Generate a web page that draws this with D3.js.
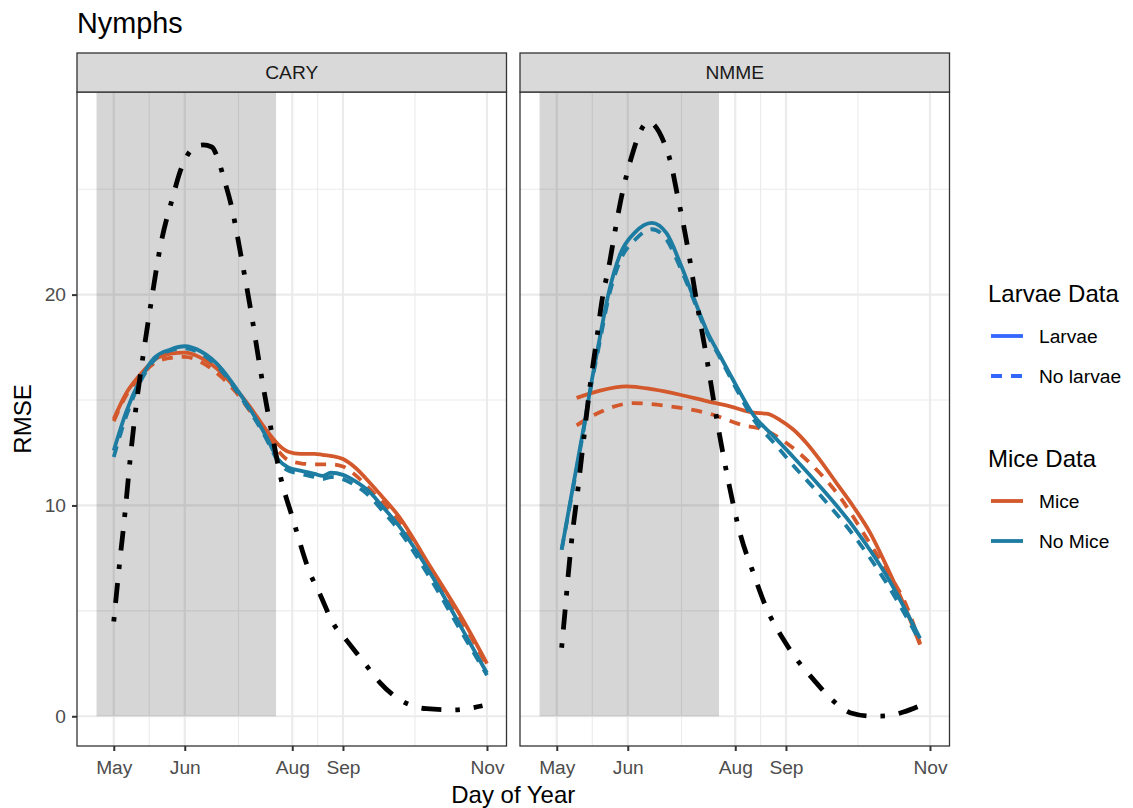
<!DOCTYPE html>
<html>
<head>
<meta charset="utf-8">
<script src="https://cdn.jsdelivr.net/npm/d3@7"></script>
<style>
  body { margin: 0; background: #ffffff; }
  svg { display: block; }
  text { font-family: "Liberation Sans", Arial, Helvetica, sans-serif; }
</style>
</head>
<body>
<svg id="chart" width="1133" height="808"></svg>
<script>
// ---- data -------------------------------------------------------------
const panelNames = ["CARY", "NMME"];
const monthTickDays = [121, 156, 209, 234, 305];
const monthTickLabels = ["May", "Jun", "Aug", "Sep", "Nov"];
const yTickValues = [0, 10, 20];
const yMinorValues = [5, 15, 25];
const shadedWindow = [112.5, 201];

// CARY: RMSE by day of year
const caryDays = [121, 127, 134, 141, 149, 156, 164, 174, 181, 188, 196, 202, 207, 213, 220, 224, 228, 234, 240, 247, 253, 261, 277, 293, 305];
const caryMiceLarvae     = [14.1, 15.3, 16.2, 16.9, 17.2, 17.25, 17.0, 16.3, 15.55, 14.7, 13.6, 12.9, 12.55, 12.45, 12.45, 12.4, 12.35, 12.2, 11.8, 11.1, 10.45, 9.55, 7.1, 4.6, 2.5];
const caryMiceNoLarvae   = [14.0, 15.2, 16.1, 16.75, 17.0, 17.05, 16.8, 16.1, 15.4, 14.5, 13.4, 12.6, 12.15, 12.0, 11.95, 11.95, 11.95, 11.85, 11.45, 10.8, 10.2, 9.35, 6.95, 4.45, 2.4];
const caryNoMiceLarvae   = [12.6, 14.4, 15.95, 17.0, 17.4, 17.55, 17.3, 16.5, 15.6, 14.6, 13.3, 12.2, 11.8, 11.65, 11.5, 11.4, 11.55, 11.45, 11.15, 10.65, 10.0, 9.1, 6.8, 4.1, 2.05];
const caryNoMiceNoLarvae = [12.3, 14.2, 15.85, 16.9, 17.35, 17.45, 17.2, 16.4, 15.5, 14.5, 13.2, 12.1, 11.65, 11.5, 11.35, 11.25, 11.35, 11.25, 10.95, 10.45, 9.8, 8.9, 6.55, 3.9, 1.95];
const caryBaselineDays = [121, 123.7, 126.6, 129.1, 132.4, 135.6, 139.7, 143.8, 150.3, 153.6, 161, 165, 169.3, 172.5, 175.3, 179, 184, 189, 193, 197, 199.6, 202.9, 209.5, 217.7, 222.6, 229.2, 235.8, 245.6, 252.2, 263.6, 275.2, 288.2, 302.8];
const caryBaseline     = [4.5, 7.1, 9.7, 12.2, 15.0, 17.2, 19.8, 22.2, 24.7, 25.8, 27.0, 27.1, 27.0, 26.4, 25.5, 24.2, 21.7, 19.0, 16.6, 14.4, 13.1, 11.5, 9.3, 6.8, 5.8, 4.4, 3.6, 2.4, 1.6, 0.7, 0.36, 0.3, 0.5];

// NMME: RMSE by day of year
const nmmeMiceDays         = [130.8, 142.3, 155.5, 168.6, 181.8, 194.9, 206.4, 217.9, 224.5, 231.1, 237.6, 244.2, 250.8, 259.0, 267.2, 275.5, 283.7, 291.9, 300.1];
const nmmeMiceLarvae       = [15.1, 15.45, 15.65, 15.5, 15.25, 14.95, 14.7, 14.4, 14.35, 14.05, 13.6, 12.95, 12.15, 11.05, 9.95, 8.7, 7.1, 5.35, 3.4];
const nmmeMiceNoLarvaeDays = [130.8, 140.6, 158.7, 176.8, 198.1, 212.9, 222.8, 234.4, 247.5, 260.6, 272.1, 283.7, 293.6, 300.1];
const nmmeMiceNoLarvae     = [13.8, 14.35, 14.85, 14.7, 14.3, 13.8, 13.6, 12.95, 11.85, 10.4, 8.7, 6.9, 5.2, 3.45];
const nmmeNoMiceDays       = [123.4, 129.2, 134.1, 138.2, 142.3, 146.4, 152.2, 159.6, 167.8, 175.2, 181.8, 188.3, 194.9, 201.5, 209.7, 217.9, 227.8, 237.6, 250.8, 267.2, 283.7, 300.1];
const nmmeNoMiceLarvae     = [7.9, 11.0, 13.6, 15.9, 18.0, 20.0, 21.9, 22.95, 23.4, 22.9, 21.5, 19.9, 18.3, 17.1, 15.65, 14.3, 13.3, 12.3, 10.9, 9.0, 6.65, 3.7];
const nmmeNoMiceNoLarvae   = [7.9, 10.9, 13.5, 15.8, 17.8, 19.8, 21.6, 22.6, 23.1, 22.6, 21.3, 19.8, 18.2, 17.0, 15.5, 14.1, 13.0, 11.9, 10.5, 8.6, 6.3, 3.55];
const nmmeBaselineDays = [123.4, 125.0, 126.6, 128.3, 131.6, 134.1, 137.4, 140.7, 143.1, 147.2, 149.7, 152.2, 155.5, 158.7, 162, 166.1, 173.5, 177.6, 180.1, 183.3, 185.8, 189.9, 194.9, 199.0, 200.6, 205.5, 211.3, 217.9, 224.5, 232.7, 239.3, 247.5, 257.3, 265.6, 277.1, 283.7, 291.9, 300.1];
const nmmeBaseline     = [3.25, 4.9, 6.65, 8.3, 10.9, 13.0, 15.65, 17.9, 19.6, 21.6, 23.0, 24.3, 25.7, 26.8, 27.7, 28.2, 27.3, 26.1, 24.9, 23.4, 22.1, 19.7, 17.0, 14.6, 13.7, 11.2, 8.7, 6.8, 5.1, 3.65, 2.7, 1.75, 0.73, 0.17, 0.0, 0.02, 0.2, 0.5];

// ---- styles -----------------------------------------------------------
const miceColor = "#D3582C";
const noMiceColor = "#1D7CA2";
const legendBlue = "#3366FF";
const dashPattern = "11,9";
const dotDashPattern = "4.5,14,20,14";

const zip = (xs, ys) => xs.map((d, i) => [d, ys[i]]);

const panelData = {
  CARY: {
    series: [
      { pts: zip(caryDays, caryMiceNoLarvae), color: miceColor, dash: dashPattern },
      { pts: zip(caryDays, caryMiceLarvae), color: miceColor, dash: null },
      { pts: zip(caryDays, caryNoMiceNoLarvae), color: noMiceColor, dash: dashPattern },
      { pts: zip(caryDays, caryNoMiceLarvae), color: noMiceColor, dash: null }
    ],
    baseline: zip(caryBaselineDays, caryBaseline)
  },
  NMME: {
    series: [
      { pts: zip(nmmeMiceNoLarvaeDays, nmmeMiceNoLarvae), color: miceColor, dash: dashPattern },
      { pts: zip(nmmeMiceDays, nmmeMiceLarvae), color: miceColor, dash: null },
      { pts: zip(nmmeNoMiceDays, nmmeNoMiceNoLarvae), color: noMiceColor, dash: dashPattern },
      { pts: zip(nmmeNoMiceDays, nmmeNoMiceLarvae), color: noMiceColor, dash: null }
    ],
    baseline: zip(nmmeBaselineDays, nmmeBaseline)
  }
};

// ---- layout -----------------------------------------------------------
const svg = d3.select("#chart");
const panelLefts = [77, 520];
const panelW = 429.5;
const stripTop = 53, stripH = 39;
const panelTop = stripTop + stripH, panelBottom = 746;

// shared scales with 5% expansion like ggplot
const allX = [shadedWindow[0], shadedWindow[1]];
const allY = [0];
panelNames.forEach(p => {
  panelData[p].series.forEach(s => s.pts.forEach(d => { allX.push(d[0]); allY.push(d[1]); }));
  panelData[p].baseline.forEach(d => { allX.push(d[0]); allY.push(d[1]); });
});
const [x0, x1] = d3.extent(allX);
const [y0, y1] = d3.extent(allY);
const xPad = (x1 - x0) * 0.05, yPad = (y1 - y0) * 0.05;
const x = d3.scaleLinear().domain([x0 - xPad, x1 + xPad]).range([0, panelW]);
const y = d3.scaleLinear().domain([y0 - yPad, y1 + yPad]).range([panelBottom - panelTop, 0]);

const xMinor = d3.pairs(monthTickDays).map(([a, b]) => (a + b) / 2);
const gridColor = "#EBEBEB";
const lineGen = d3.line().x(d => x(d[0])).y(d => y(d[1])).curve(d3.curveMonotoneX);

// title
svg.append("text").attr("x", 77).attr("y", 33).attr("font-size", 28.8).attr("fill", "#000").text("Nymphs");

panelNames.forEach((name, i) => {
  const g = svg.append("g").attr("transform", `translate(${panelLefts[i]},${panelTop})`);
  const h = panelBottom - panelTop;

  // minor grid
  g.selectAll(".ymin").data(yMinorValues).join("line")
    .attr("x1", 0).attr("x2", panelW).attr("y1", d => y(d)).attr("y2", d => y(d))
    .attr("stroke", gridColor).attr("stroke-width", 1.1);
  g.selectAll(".xmin").data(xMinor).join("line")
    .attr("y1", 0).attr("y2", h).attr("x1", d => x(d)).attr("x2", d => x(d))
    .attr("stroke", gridColor).attr("stroke-width", 1.1);
  // major grid
  g.selectAll(".ymaj").data(yTickValues).join("line")
    .attr("x1", 0).attr("x2", panelW).attr("y1", d => y(d)).attr("y2", d => y(d))
    .attr("stroke", gridColor).attr("stroke-width", 2.2);
  g.selectAll(".xmaj").data(monthTickDays).join("line")
    .attr("y1", 0).attr("y2", h).attr("x1", d => x(d)).attr("x2", d => x(d))
    .attr("stroke", gridColor).attr("stroke-width", 2.2);

  // shaded window: from the top of the panel down to zero
  g.append("rect")
    .attr("x", x(shadedWindow[0])).attr("width", x(shadedWindow[1]) - x(shadedWindow[0]))
    .attr("y", 0).attr("height", y(0))
    .attr("fill", "#000").attr("fill-opacity", 0.16);

  // colored RMSE curves
  panelData[name].series.forEach(s => {
    g.append("path").attr("d", lineGen(s.pts))
      .attr("fill", "none").attr("stroke", s.color).attr("stroke-width", 3.8)
      .attr("stroke-dasharray", s.dash).attr("stroke-linecap", "butt");
  });
  // dot-dash reference curve
  g.append("path").attr("d", lineGen(panelData[name].baseline))
    .attr("fill", "none").attr("stroke", "#000").attr("stroke-width", 4.8)
    .attr("stroke-dasharray", dotDashPattern).attr("stroke-linecap", "butt");

  // border
  g.append("rect").attr("x", 0).attr("y", 0).attr("width", panelW).attr("height", h)
    .attr("fill", "none").attr("stroke", "#333333").attr("stroke-width", 1.3);

  // strip
  svg.append("rect").attr("x", panelLefts[i]).attr("y", stripTop).attr("width", panelW).attr("height", stripH)
    .attr("fill", "#D9D9D9").attr("stroke", "#333333").attr("stroke-width", 1.3);
  svg.append("text").attr("x", panelLefts[i] + panelW / 2).attr("y", stripTop + stripH / 2 + 6.8)
    .attr("text-anchor", "middle").attr("font-size", 19.2).attr("fill", "#1A1A1A").text(name);

  // x axis
  const xAxis = d3.axisBottom(x).tickValues(monthTickDays)
    .tickFormat((d, k) => monthTickLabels[k]).tickSize(5).tickPadding(9);
  const ax = svg.append("g").attr("transform", `translate(${panelLefts[i]},${panelBottom})`).call(xAxis);
  ax.select(".domain").remove();
  ax.selectAll("line").attr("stroke", "#333333").attr("stroke-width", 2);
  ax.selectAll("text").attr("font-size", 19.2).attr("fill", "#4D4D4D")
    .attr("font-family", "Liberation Sans, Arial, sans-serif");
});

// y axis (left panel only)
const yAxis = d3.axisLeft(y).tickValues(yTickValues).tickSize(5).tickPadding(6);
const ay = svg.append("g").attr("transform", `translate(${panelLefts[0]},${panelTop})`).call(yAxis);
ay.select(".domain").remove();
ay.selectAll("line").attr("stroke", "#333333").attr("stroke-width", 2);
ay.selectAll("text").attr("font-size", 19.2).attr("fill", "#4D4D4D")
  .attr("font-family", "Liberation Sans, Arial, sans-serif");

// axis titles
svg.append("text").attr("x", (panelLefts[0] + panelLefts[1] + panelW) / 2).attr("y", 803)
  .attr("text-anchor", "middle").attr("font-size", 24).attr("fill", "#000").text("Day of Year");
svg.append("text").attr("transform", `translate(31,${(panelTop + panelBottom) / 2}) rotate(-90)`)
  .attr("text-anchor", "middle").attr("font-size", 24).attr("fill", "#000").text("RMSE");

// legends
const legendX = 988;
const legends = [
  { title: "Larvae Data", titleY: 293, items: [
    { label: "Larvae", color: legendBlue, dash: null, y: 336 },
    { label: "No larvae", color: legendBlue, dash: dashPattern, y: 376 } ] },
  { title: "Mice Data", titleY: 458, items: [
    { label: "Mice", color: miceColor, dash: null, y: 501 },
    { label: "No Mice", color: noMiceColor, dash: null, y: 541 } ] }
];
legends.forEach(L => {
  svg.append("text").attr("x", legendX).attr("y", L.titleY + 8.5).attr("font-size", 24).attr("fill", "#000").text(L.title);
  L.items.forEach(it => {
    svg.append("line").attr("x1", legendX + 3).attr("x2", legendX + 35).attr("y1", it.y).attr("y2", it.y)
      .attr("stroke", it.color).attr("stroke-width", 3.8).attr("stroke-dasharray", it.dash);
    svg.append("text").attr("x", legendX + 51).attr("y", it.y + 6.8).attr("font-size", 19.2).attr("fill", "#000").text(it.label);
  });
});
</script>
</body>
</html>
